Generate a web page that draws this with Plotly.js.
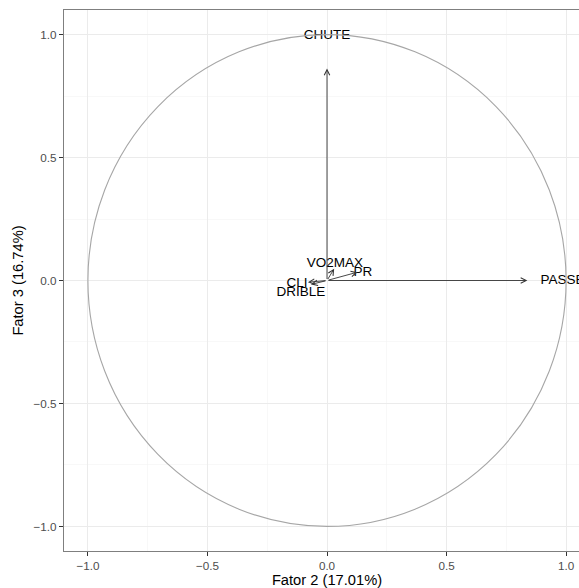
<!DOCTYPE html>
<html><head><meta charset="utf-8">
<script src="https://cdn.plot.ly/plotly-3.0.1.min.js"></script>
<style>html,body{margin:0;padding:0;overflow:hidden;background:#fff;}#chart{width:590px;height:588px;}</style>
</head><body><div id="chart"></div>
<script>
// Variables and their coordinates on Fator 2 (x) and Fator 3 (y)
const variables = ['CHUTE', 'PASSE', 'VO2MAX', 'PR', 'CLI', 'DRIBLE'];
const fator2 = [0.0, 0.838, 0.030, 0.128, -0.080, -0.067];
const fator3 = [0.862, 0.0, 0.048, 0.034, -0.007, -0.016];
// label anchor positions
const labelX = [0.0, 0.985, 0.033, 0.150, -0.125, -0.109];
const labelY = [0.994, 0.0, 0.070, 0.034, -0.013, -0.048];
const xTicks = [-1.0, -0.5, 0.0, 0.5, 1.0];
const yTicks = [-1.0, -0.5, 0.0, 0.5, 1.0];
const xTitle = 'Fator 2 (17.01%)';
const yTitle = 'Fator 3 (16.74%)';

const font = 'Liberation Sans, Arial, Helvetica, sans-serif';

const annotations = variables.map((v, i) => ({
  x: fator2[i], y: fator3[i], ax: 0, ay: 0,
  xref: 'x', yref: 'y', axref: 'x', ayref: 'y',
  text: '', showarrow: true, arrowhead: 5, arrowsize: 1.2, arrowwidth: 0.9,
  arrowcolor: '#333333', standoff: 0, startstandoff: 0
}));

const traces = [{
  type: 'scatter', mode: 'text', x: labelX, y: labelY, text: variables,
  textposition: 'middle center', textfont: {family: font, size: 13.5, color: '#000'},
  hoverinfo: 'skip', showlegend: false, cliponaxis: false
}];

const axisCommon = {
  showline: true, mirror: true, linecolor: '#7f7f7f', linewidth: 1.1,
  ticks: 'outside', ticklen: 4, tickcolor: '#333333', tickwidth: 1,
  showgrid: true, gridcolor: '#ebebeb', gridwidth: 1, zeroline: false,
  tickfont: {family: font, size: 11.7, color: '#4d4d4d'},
  minor: {dtick: 0.25, showgrid: true, gridcolor: '#f4f4f4', gridwidth: 0.6},
  tickformat: '.1f', fixedrange: true
};

const layout = {
  width: 590, height: 588,
  margin: {l: 64, r: 0, t: 10, b: 37},
  paper_bgcolor: '#fff', plot_bgcolor: '#fff',
  showlegend: false,
  xaxis: Object.assign({}, axisCommon, {
    range: [-1.1, 1.1], tickvals: xTicks,
    title: {text: xTitle, font: {family: font, size: 14.7, color: '#000'}, standoff: 4}
  }),
  yaxis: Object.assign({}, axisCommon, {
    range: [-1.1, 1.1], tickvals: yTicks,
    title: {text: yTitle, font: {family: font, size: 14.7, color: '#000'}, standoff: 6}
  }),
  shapes: [{
    type: 'circle', xref: 'x', yref: 'y', x0: -1, x1: 1, y0: -1, y1: 1,
    line: {color: '#a6a6a6', width: 1.1}, layer: 'above'
  }],
  annotations: annotations
};

Plotly.newPlot('chart', traces, layout, {displayModeBar: false, staticPlot: true});
</script></body></html>
